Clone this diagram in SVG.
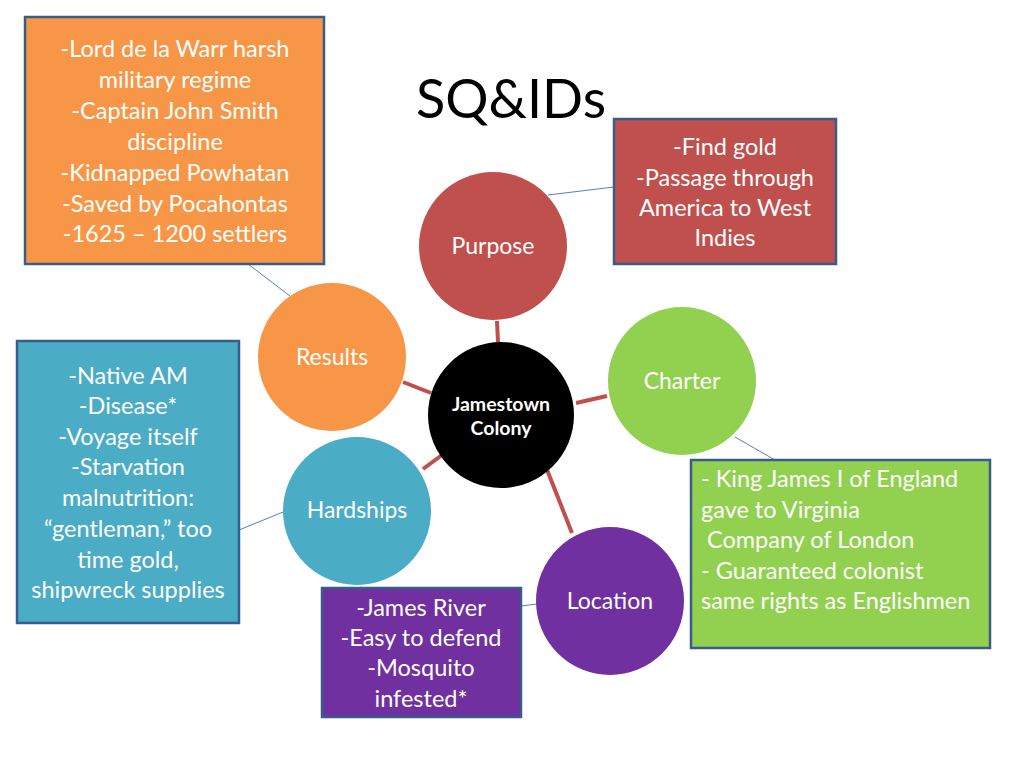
<svg xmlns="http://www.w3.org/2000/svg" width="1024" height="768" viewBox="0 0 1024 768">
<style>
text{font-family:Lato,"Open Sans","Liberation Sans",sans-serif;fill:#fff}
.t{font-size:23.5px;text-anchor:middle}
.l{font-size:23.5px}
.c{font-size:23px;text-anchor:middle}
.box{stroke:#385d8a;stroke-width:2.5}
.thick{stroke:#c0504d;stroke-width:4;fill:none}
.thin{stroke:#4f81bd;stroke-width:1;fill:none}
</style>
<rect width="1024" height="768" fill="#fff"/>
<text x="511" y="118" style="font-size:54px;fill:#000;text-anchor:middle">SQ&amp;IDs</text>
<g id="connectors">
<line class="thick" x1="497" y1="321" x2="498" y2="342"/>
<line class="thick" x1="403" y1="382" x2="431" y2="393"/>
<line class="thick" x1="576" y1="403" x2="607" y2="396"/>
<line class="thick" x1="423" y1="469" x2="442" y2="455"/>
<line class="thick" x1="540" y1="452" x2="572" y2="533"/>
<line class="thin" x1="248" y1="264" x2="290" y2="296"/>
<line class="thin" x1="548" y1="195" x2="614" y2="187"/>
<line class="thin" x1="735" y1="437" x2="775" y2="460"/>
<line class="thin" x1="239" y1="530" x2="283" y2="512"/>
<line class="thin" x1="521" y1="606" x2="537" y2="604"/>
</g>
<g id="results-box">
<rect class="box" x="25" y="17" width="299" height="247" fill="#f79646"/>
<text class="t" x="175" y="57">-Lord de la Warr harsh</text>
<text class="t" x="175" y="88">military regime</text>
<text class="t" x="175" y="119">-Captain John Smith</text>
<text class="t" x="175" y="150">discipline</text>
<text class="t" x="175" y="181">-Kidnapped Powhatan</text>
<text class="t" x="175" y="212">-Saved by Pocahontas</text>
<text class="t" x="175" y="242">-1625 – 1200 settlers</text>
</g>
<g id="purpose-box">
<rect class="box" x="614" y="119" width="222" height="145" fill="#c0504d"/>
<text class="t" x="725" y="155">-Find gold</text>
<text class="t" x="725" y="186">-Passage through</text>
<text class="t" x="725" y="216">America to West</text>
<text class="t" x="725" y="246">Indies</text>
</g>
<g id="hardships-box">
<rect class="box" x="17" y="341" width="222" height="282" fill="#4bacc6"/>
<text class="t" x="128" y="384">-Native AM</text>
<text class="t" x="128" y="414">-Disease*</text>
<text class="t" x="128" y="445">-Voyage itself</text>
<text class="t" x="128" y="475">-Starvation</text>
<text class="t" x="128" y="506">malnutrition:</text>
<text class="t" x="128" y="537">“gentleman,” too</text>
<text class="t" x="128" y="568">time gold,</text>
<text class="t" x="128" y="598">shipwreck supplies</text>
</g>
<g id="location-box">
<rect class="box" x="322" y="588" width="199" height="129" fill="#7030a0"/>
<text class="t" x="421" y="616">-James River</text>
<text class="t" x="421" y="646">-Easy to defend</text>
<text class="t" x="421" y="676">-Mosquito</text>
<text class="t" x="421" y="707">infested*</text>
</g>
<g id="charter-box">
<rect class="box" x="691" y="460" width="299" height="188" fill="#92d050"/>
<text class="l" x="701" y="487">- King James I of England</text>
<text class="l" x="701" y="518">gave to Virginia</text>
<text class="l" x="707" y="548">Company of London</text>
<text class="l" x="701" y="579">- Guaranteed colonist</text>
<text class="l" x="701" y="609">same rights as Englishmen</text>
</g>
<g id="purpose">
<circle cx="493" cy="246" r="74" fill="#c0504d"/>
<text class="c" x="493" y="254">Purpose</text>
</g>
<g id="results">
<circle cx="332" cy="357" r="74" fill="#f79646"/>
<text class="c" x="332" y="365">Results</text>
</g>
<g id="jamestown">
<circle cx="501" cy="415" r="73" fill="#000"/>
<text x="501" y="411" style="font-size:19.5px;font-weight:bold;text-anchor:middle">Jamestown</text>
<text x="501" y="435" style="font-size:19.5px;font-weight:bold;text-anchor:middle">Colony</text>
</g>
<g id="charter">
<circle cx="682" cy="381" r="74" fill="#92d050"/>
<text class="c" x="682" y="389">Charter</text>
</g>
<g id="hardships">
<circle cx="357" cy="511" r="74" fill="#4bacc6"/>
<text class="c" x="357" y="518">Hardships</text>
</g>
<g id="location">
<circle cx="610" cy="601" r="74" fill="#7030a0"/>
<text class="c" x="610" y="609">Location</text>
</g>
</svg>
